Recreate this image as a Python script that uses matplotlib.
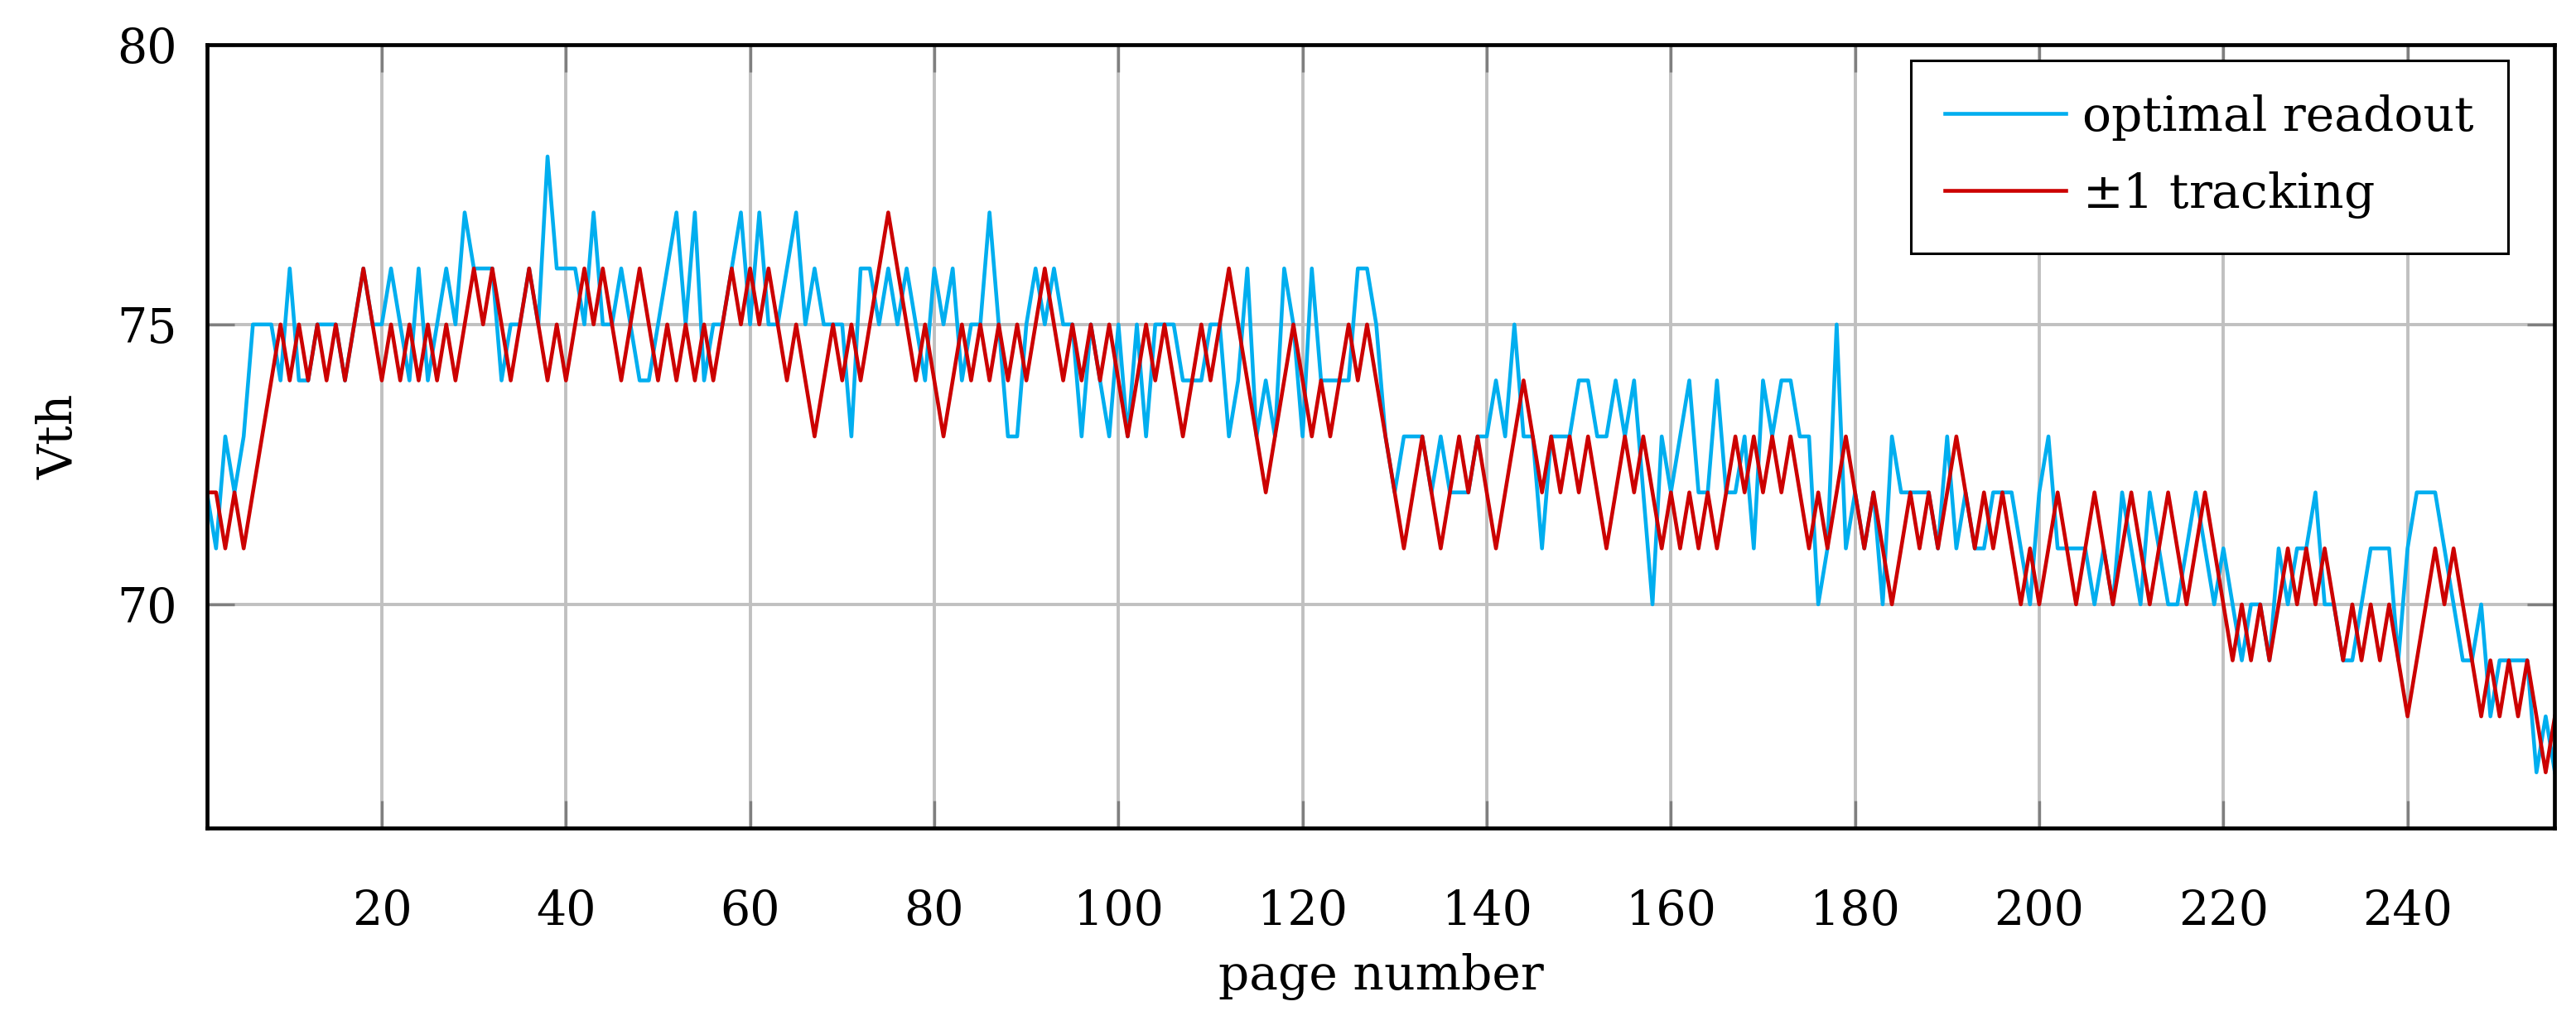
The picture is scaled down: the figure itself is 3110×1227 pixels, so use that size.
import numpy as np
import matplotlib.pyplot as plt

# page numbers 1..256
pages = np.arange(1, 257)

# optimal readout Vth per page
vth_optimal = [
    72, 71, 73, 72, 73, 75, 75, 75, 74, 76, 74, 74, 75, 75, 75, 74, 75, 76, 75, 75, 76, 75, 74,
    76, 74, 75, 76, 75, 77, 76, 76, 76, 74, 75, 75, 76, 75, 78, 76, 76, 76, 75, 77, 75, 75, 76,
    75, 74, 74, 75, 76, 77, 75, 77, 74, 75, 75, 76, 77, 75, 77, 75, 75, 76, 77, 75, 76, 75,
    75, 75, 73, 76, 76, 75, 76, 75, 76, 75, 74, 76, 75, 76, 74, 75, 75, 77, 75, 73, 73, 75, 76,
    75, 76, 75, 75, 73, 75, 74, 73, 75, 73, 75, 73, 75, 75, 75, 74, 74, 74, 75, 75, 73, 74,
    76, 73, 74, 73, 76, 75, 73, 76, 74, 74, 74, 74, 76, 76, 75, 73, 72, 73, 73, 73, 72, 73, 72,
    72, 72, 73, 73, 74, 73, 75, 73, 73, 71, 73, 73, 73, 74, 74, 73, 73, 74, 73, 74, 72, 70,
    73, 72, 73, 74, 72, 72, 74, 72, 72, 73, 71, 74, 73, 74, 74, 73, 73, 70, 71, 75, 71, 72,
    71, 72, 70, 73, 72, 72, 72, 72, 71, 73, 71, 72, 71, 71, 72, 72, 72, 71, 70, 72, 73, 71, 71,
    71, 71, 70, 71, 70, 72, 71, 70, 72, 71, 70, 70, 71, 72, 71, 70, 71, 70, 69, 70, 70, 69, 71,
    70, 71, 71, 72, 70, 70, 69, 69, 70, 71, 71, 71, 69, 71, 72, 72, 72, 71, 70, 69, 69, 70, 68,
    69, 69, 69, 69, 67, 68, 67,
]

# +-1 tracking Vth per page
vth_tracking = [
    72, 72, 71, 72, 71, 72, 73, 74, 75, 74, 75, 74, 75, 74, 75, 74, 75, 76, 75, 74, 75, 74, 75,
    74, 75, 74, 75, 74, 75, 76, 75, 76, 75, 74, 75, 76, 75, 74, 75, 74, 75, 76, 75, 76, 75, 74,
    75, 76, 75, 74, 75, 74, 75, 74, 75, 74, 75, 76, 75, 76, 75, 76, 75, 74, 75, 74, 73, 74,
    75, 74, 75, 74, 75, 76, 77, 76, 75, 74, 75, 74, 73, 74, 75, 74, 75, 74, 75, 74, 75, 74, 75,
    76, 75, 74, 75, 74, 75, 74, 75, 74, 73, 74, 75, 74, 75, 74, 73, 74, 75, 74, 75, 76, 75,
    74, 73, 72, 73, 74, 75, 74, 73, 74, 73, 74, 75, 74, 75, 74, 73, 72, 71, 72, 73, 72, 71, 72,
    73, 72, 73, 72, 71, 72, 73, 74, 73, 72, 73, 72, 73, 72, 73, 72, 71, 72, 73, 72, 73, 72,
    71, 72, 71, 72, 71, 72, 71, 72, 73, 72, 73, 72, 73, 72, 73, 72, 71, 72, 71, 72, 73, 72, 71,
    72, 71, 70, 71, 72, 71, 72, 71, 72, 73, 72, 71, 72, 71, 72, 71, 70, 71, 70, 71, 72, 71,
    70, 71, 72, 71, 70, 71, 72, 71, 70, 71, 72, 71, 70, 71, 72, 71, 70, 69, 70, 69, 70, 69, 70,
    71, 70, 71, 70, 71, 70, 69, 70, 69, 70, 69, 70, 69, 68, 69, 70, 71, 70, 71, 70, 69, 68, 69,
    68, 69, 68, 69, 68, 67, 68,
]

x_ticks = list(range(20, 241, 20))
y_ticks = [70, 75, 80]

plt.rcParams['font.family'] = ['DejaVu Serif']

fig = plt.figure(figsize=(31.1, 12.27), dpi=100)
ax = fig.add_axes([0.0803, 0.1847, 0.9115, 0.7715])

ax.plot(pages, vth_optimal, color='#00AEEF', lw=3.3, label='optimal readout', zorder=3)
ax.plot(pages, vth_tracking, color='#CC0000', lw=3.3, label='$\\pm$1 tracking', zorder=4)

ax.set_xlim(1, 256)
ax.set_ylim(66, 80)
ax.set_xticks(x_ticks)
ax.set_yticks(y_ticks)
ax.grid(True, color='#C0C0C0', lw=2.8)
ax.set_axisbelow(True)

for s in ax.spines.values():
    s.set_linewidth(3.4)
    s.set_zorder(5)

ax.tick_params(direction='in', length=24, width=2.4, color='#7F7F7F',
               top=True, right=True, labelsize=41)
ax.tick_params(axis='x', pad=52)
ax.tick_params(axis='y', pad=26)

ax.set_xlabel('page number', fontsize=42, labelpad=16)
ax.set_ylabel('Vth', fontsize=42, labelpad=30)

leg = ax.legend(loc='upper right', bbox_to_anchor=(0.98, 0.98), borderaxespad=0,
                fontsize=42, fancybox=False, framealpha=1, edgecolor='black',
                handlelength=2.5, handletextpad=0.35, borderpad=0.7, labelspacing=0.6)
leg.get_frame().set_linewidth(2.2)

fig.savefig('out.png', dpi=100)
